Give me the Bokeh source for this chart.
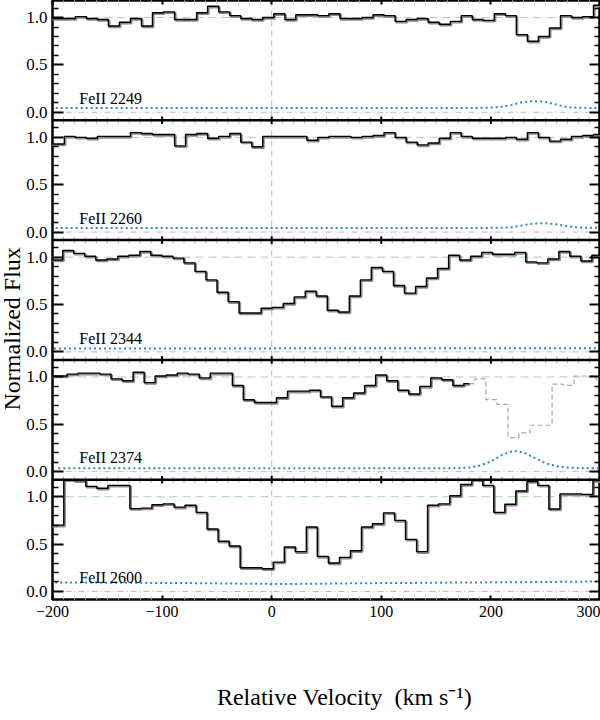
from bokeh.plotting import figure
from bokeh.models import (ColumnDataSource, Range1d, FixedTicker, LinearAxis, Span, Label,
                          CustomJSTickFormatter, CustomLabelingPolicy, Title)
from bokeh.transform import dodge
from bokeh.embed import file_html
from bokeh.resources import INLINE

# ---------------- data ----------------
# velocity bin edges (km/s), shared pixel grid
edges = [-205.0, -189.2, -179.2, -169.1, -159.1, -149.0, -138.9, -128.9, -118.8, -108.8,
         -98.7, -88.6, -78.6, -68.5, -58.5, -48.4, -38.3, -28.3, -18.2, -8.2,
         1.9, 12.0, 22.0, 32.1, 42.1, 52.2, 62.3, 72.3, 82.4, 92.4,
         102.5, 112.6, 122.6, 132.7, 142.7, 152.8, 162.9, 172.9, 183.0, 193.0,
         203.1, 213.2, 223.2, 233.3, 243.3, 253.4, 263.5, 273.5, 283.6, 293.6,
         303.7]

transitions = ["FeII 2249", "FeII 2260", "FeII 2344", "FeII 2374", "FeII 2600"]
velocity_shift = [0.0, 0.0, -1.5, 2.4, -0.5]

flux_2249 = [0.99, 0.99, 1.01, 0.99, 0.98, 0.91, 0.95, 0.99, 0.91, 1.05,
             1.06, 0.98, 0.98, 1.05, 1.12, 1.06, 1.02, 0.99, 0.98, 1.00,
             1.04, 0.98, 1.03, 1.03, 1.02, 1.04, 0.99, 0.99, 1.00, 1.03,
             1.02, 0.96, 0.98, 0.99, 0.95, 0.93, 0.96, 1.02, 0.98, 0.97,
             1.04, 1.02, 0.82, 0.75, 0.80, 0.89, 1.02, 1.00, 1.01, 1.13]
flux_2260 = [0.93, 1.01, 1.00, 0.99, 1.01, 1.01, 1.01, 1.05, 1.04, 1.03,
             1.03, 0.91, 1.03, 1.04, 0.99, 1.01, 1.04, 0.95, 0.90, 1.01,
             1.01, 1.01, 1.01, 0.97, 1.00, 1.01, 1.01, 1.00, 1.01, 1.02,
             1.05, 1.00, 0.95, 0.92, 0.94, 0.99, 1.05, 1.01, 0.99, 0.99,
             0.99, 1.00, 0.98, 1.05, 1.00, 0.96, 0.98, 1.01, 1.02, 1.03]
flux_2344 = [0.97, 1.07, 1.04, 1.01, 0.97, 0.98, 1.01, 1.02, 1.06, 1.02,
             1.01, 0.99, 0.94, 0.85, 0.76, 0.63, 0.53, 0.41, 0.41, 0.46,
             0.47, 0.51, 0.58, 0.64, 0.59, 0.44, 0.42, 0.59, 0.76, 0.89,
             0.85, 0.70, 0.62, 0.69, 0.78, 0.88, 1.02, 0.97, 1.01, 1.05,
             1.03, 1.03, 1.05, 0.95, 0.94, 0.98, 1.06, 1.01, 0.96, 1.02]
flux_2374 = [1.01, 1.03, 1.04, 1.04, 1.03, 0.98, 0.96, 1.05, 0.94, 1.01,
             1.02, 1.04, 1.03, 0.99, 1.04, 1.04, 0.91, 0.76, 0.73, 0.73,
             0.78, 0.85, 0.85, 0.86, 0.79, 0.69, 0.78, 0.83, 0.91, 1.02,
             0.96, 0.86, 0.82, 0.90, 0.99, 0.97, 0.91, 0.93, 0.98, 0.76,
             0.71, 0.36, 0.41, 0.49, 0.49, 0.925, 0.91, 1.01, 1.01, 0.97]
flux_2600 = [0.70, 1.18, 1.17, 1.11, 1.09, 1.12, 1.12, 0.875, 0.88, 0.915,
             0.925, 0.89, 0.91, 0.835, 0.66, 0.53, 0.48, 0.25, 0.25, 0.24,
             0.31, 0.47, 0.42, 0.68, 0.37, 0.30, 0.36, 0.43, 0.68, 0.715,
             0.83, 0.75, 0.55, 0.42, 0.91, 0.925, 1.01, 1.13, 1.18, 1.12,
             0.835, 0.92, 1.06, 1.16, 1.12, 0.87, 1.03, 1.03, 1.025, 1.17]

err_2249 = [0.046, 0.046, 0.046, 0.045, 0.045, 0.045, 0.045, 0.045, 0.045, 0.045,
            0.045, 0.045, 0.045, 0.045, 0.045, 0.045, 0.045, 0.045, 0.045, 0.045,
            0.045, 0.045, 0.045, 0.045, 0.045, 0.045, 0.045, 0.045, 0.045, 0.045,
            0.045, 0.045, 0.045, 0.045, 0.045, 0.045, 0.045, 0.046, 0.046, 0.047,
            0.055, 0.075, 0.105, 0.117, 0.113, 0.085, 0.055, 0.047, 0.046, 0.046]
err_2260 = [0.043, 0.043, 0.043, 0.043, 0.043, 0.043, 0.043, 0.043, 0.043, 0.043,
            0.043, 0.043, 0.043, 0.043, 0.043, 0.043, 0.043, 0.043, 0.043, 0.043,
            0.043, 0.043, 0.043, 0.043, 0.043, 0.043, 0.043, 0.043, 0.043, 0.043,
            0.043, 0.043, 0.043, 0.043, 0.043, 0.043, 0.043, 0.043, 0.044, 0.044,
            0.045, 0.050, 0.070, 0.090, 0.093, 0.085, 0.065, 0.050, 0.045, 0.044]
err_2344 = [0.036, 0.036, 0.036, 0.036, 0.036, 0.036, 0.036, 0.036, 0.036, 0.036,
            0.036, 0.036, 0.036, 0.036, 0.036, 0.036, 0.036, 0.036, 0.036, 0.036,
            0.037, 0.037, 0.037, 0.037, 0.037, 0.037, 0.037, 0.037, 0.037, 0.037,
            0.038, 0.038, 0.038, 0.038, 0.038, 0.038, 0.038, 0.038, 0.038, 0.038,
            0.038, 0.038, 0.038, 0.038, 0.038, 0.038, 0.038, 0.038, 0.038, 0.038]
err_2374 = [0.036, 0.036, 0.036, 0.036, 0.036, 0.036, 0.036, 0.036, 0.036, 0.036,
            0.036, 0.036, 0.036, 0.036, 0.036, 0.036, 0.036, 0.036, 0.036, 0.036,
            0.036, 0.036, 0.036, 0.036, 0.036, 0.036, 0.036, 0.036, 0.036, 0.036,
            0.036, 0.036, 0.036, 0.036, 0.036, 0.036, 0.038, 0.045, 0.065, 0.110,
            0.180, 0.220, 0.200, 0.140, 0.085, 0.055, 0.042, 0.038, 0.037, 0.036]
err_2600 = [0.095, 0.095, 0.094, 0.094, 0.093, 0.093, 0.092, 0.092, 0.091, 0.090,
            0.090, 0.089, 0.088, 0.087, 0.086, 0.084, 0.083, 0.082, 0.081, 0.080,
            0.079, 0.079, 0.080, 0.081, 0.082, 0.084, 0.085, 0.086, 0.087, 0.088,
            0.089, 0.090, 0.090, 0.091, 0.092, 0.093, 0.094, 0.095, 0.095, 0.096,
            0.097, 0.098, 0.098, 0.099, 0.100, 0.101, 0.102, 0.103, 0.104, 0.105]

fluxes = [flux_2249, flux_2260, flux_2344, flux_2374, flux_2600]
errors = [err_2249, err_2260, err_2344, err_2374, err_2600]
blend_start_bin = {3: 37}   # FeII 2374: blended part drawn dashed from this bin

x_ticks = [-200, -100, 0, 100, 200, 300]
x_minor_steps = [10, 20, 30, 40, 50, 60, 70, 80, 90]
y_tick_values = [0.0, 0.5, 1.0]
y_minor_values = [0.1, 0.2, 0.3, 0.4, 0.6, 0.7, 0.8, 0.9, 1.1]

# ---------------- layout ----------------
Y_LO, Y_HI = -0.085, 1.18
H = Y_HI - Y_LO
N = len(transitions)
offsets = [(N - 1 - i) * H for i in range(N)]

FONT = "Liberation Serif"

p = figure(width=600, height=720, x_range=Range1d(-200, 300),
           y_range=Range1d(Y_LO, Y_LO + N * H),
           output_backend="svg", toolbar_location=None,
           min_border_left=52, min_border_right=0, min_border_top=0, min_border_bottom=121)
p.xgrid.visible = False
p.ygrid.visible = False
p.outline_line_color = "black"
p.outline_line_width = 2.5
p.background_fill_color = "white"
p.border_fill_color = "white"

y_major = [off + t for off in offsets for t in y_tick_values]
y_minor = [off + t for off in offsets for t in y_minor_values]
yticker = FixedTicker(ticks=y_major, minor_ticks=y_minor)
yfmt = CustomJSTickFormatter(code="""
const H = %r;
const k = Math.floor((tick + 0.25) / H);
const v = Math.round((tick - k * H) * 10) / 10 + 0;
return v.toFixed(1);
""" % H)
x_minor = [t + d for t in x_ticks[:-1] for d in x_minor_steps]
xticker = FixedTicker(ticks=x_ticks, minor_ticks=x_minor)
xfmt = CustomJSTickFormatter(code="""
return tick < 0 ? "\\u2212" + (-tick).toFixed(0) : tick.toFixed(0);
""")


def hide_labels(ax):
    ax.major_label_policy = CustomLabelingPolicy(code="return new Set()")
    ax.major_label_text_font_size = "0px"
    ax.major_label_standoff = 0


def style_y(ax, labels):
    ax.ticker = yticker
    ax.axis_line_color = None
    ax.major_tick_in = 11
    ax.major_tick_out = 0
    ax.minor_tick_in = 6
    ax.minor_tick_out = 0
    ax.major_tick_line_width = 2
    ax.minor_tick_line_width = 1.5
    ax.major_tick_line_color = "black"
    ax.minor_tick_line_color = "black"
    if labels:
        ax.formatter = yfmt
        ax.major_label_text_font = FONT
        ax.major_label_text_font_size = "17px"
        ax.major_label_text_color = "black"
        ax.major_label_standoff = 5
    else:
        hide_labels(ax)


def style_x(ax, labels):
    ax.ticker = xticker
    ax.axis_line_color = None
    ax.major_tick_in = 4
    ax.major_tick_out = 0
    ax.minor_tick_in = 3
    ax.minor_tick_out = 0
    ax.major_tick_line_width = 2
    ax.minor_tick_line_width = 1
    ax.major_tick_line_color = "black"
    ax.minor_tick_line_color = "#b5b5b5"
    if labels:
        ax.formatter = xfmt
        ax.major_label_text_font = FONT
        ax.major_label_text_font_size = "16px"
        ax.major_label_text_color = "black"
        ax.major_label_standoff = 6
    else:
        hide_labels(ax)


xax = p.below[0]
style_y(p.left[0], True)
style_x(xax, True)
ax_r = LinearAxis()
style_y(ax_r, False)
p.add_layout(ax_r, "right")
ax_t = LinearAxis()
style_x(ax_t, False)
p.add_layout(ax_t, "above")

# axis titles
xax.axis_label = "\u2003\u2002Relative Velocity\u00a0 (km s\u207b\u00b9)"
xax.axis_label_standoff = 64
xax.axis_label_text_font = FONT
xax.axis_label_text_font_size = "24px"
xax.axis_label_text_font_style = "normal"
xax.axis_label_text_color = "black"

p.add_layout(Title(text="Normalized Flux", align="left", offset=189, standoff=-6,
                   vertical_align="top", text_font=FONT, text_font_size="24px",
                   text_font_style="normal", text_color="black"), "left")

# vertical zero-velocity guide
p.add_layout(Span(location=0, dimension="height", line_color="#a3c6e3",
                  line_dash="6 4", line_width=1, level="underlay"))

centers = [(a + b) / 2 for a, b in zip(edges[:-1], edges[1:])]

for i, (name, flux, err) in enumerate(zip(transitions, fluxes, errors)):
    off = offsets[i]
    sh = velocity_shift[i]
    # continuum and zero guides
    p.add_layout(Span(location=off + 1.0, dimension="width", line_color="#a9d3a9",
                      line_dash="8 5", line_width=1, level="underlay"))
    p.add_layout(Span(location=off + 0.0, dimension="width", line_color="#eda5a5",
                      line_dash="6 3 1 3", line_width=1, level="underlay"))
    # error spectrum
    esrc = ColumnDataSource(dict(c=centers, e=err))
    p.line(x=dodge("c", sh), y=dodge("e", off), source=esrc, line_color="#2f86c8",
           line_width=2, line_dash="2 3")
    # flux spectrum
    if i in blend_start_bin:
        b = blend_start_bin[i]
        cut = (edges[b] + edges[b + 1]) / 2
        solid = ColumnDataSource(dict(v=edges[:b + 1] + [cut], f=flux[:b + 1] + [flux[b]]))
        dashed = ColumnDataSource(dict(v=[cut] + edges[b + 1:], f=[flux[b]] + flux[b + 1:] + [flux[-1]]))
        p.step(x=dodge("v", sh), y=dodge("f", off), source=dashed, mode="after",
               line_color="#a8a8a8", line_width=1.2, line_dash="5 3")
    else:
        solid = ColumnDataSource(dict(v=edges, f=flux + [flux[-1]]))
    p.step(x=dodge("v", sh + 0.9), y=dodge("f", off - 0.012), source=solid, mode="after",
           line_color="#8c8c8c", line_width=2.2)
    p.step(x=dodge("v", sh), y=dodge("f", off), source=solid, mode="after",
           line_color="black", line_width=1.4)
    # transition label
    p.add_layout(Label(x=-175.5, y=off + 0.145, text=name, text_font=FONT,
                       text_font_size="16px", text_color="black",
                       text_baseline="alphabetic", text_align="left"))
    # panel separator with its own small x ticks
    if i < N - 1:
        ys = off + Y_LO
        p.add_layout(Span(location=ys, dimension="width", line_color="black",
                          line_width=2.5, level="overlay"))
        p.segment(x0=x_minor, x1=x_minor, y0=[ys - 0.035] * len(x_minor),
                  y1=[ys + 0.035] * len(x_minor), line_color="#b5b5b5", line_width=1)
        inner = x_ticks[1:-1]
        p.segment(x0=inner, x1=inner, y0=[ys - 0.04] * len(inner),
                  y1=[ys + 0.04] * len(inner), line_color="black", line_width=2)

open("out.html", "w").write(file_html(p, INLINE))
